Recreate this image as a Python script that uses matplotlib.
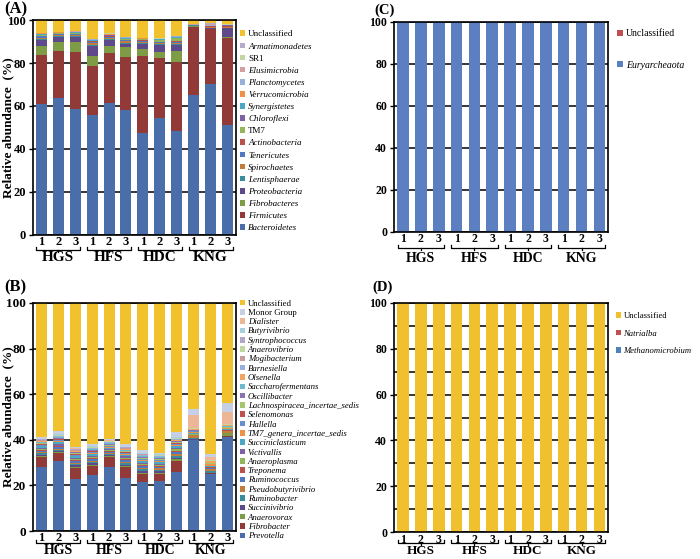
import matplotlib
matplotlib.use('Agg')
import matplotlib.pyplot as plt
import matplotlib.transforms as mtransforms
import numpy as np

plt.rcParams['font.family'] = ['Liberation Serif', 'DejaVu Serif']

samples = ['1', '2', '3'] * 4
groups = ['HGS', 'HFS', 'HDC', 'KNG']

# ---- (A) bacteria, phylum level (%), bars: HGS1..3, HFS1..3, HDC1..3, KNG1..3
bacteroidetes = [60.8, 63.5, 58.6, 56.0, 61.5, 58.2, 47.2, 54.3, 48.4, 65.0, 70.2, 51.0]
firmicutes = [22.9, 22.2, 26.7, 22.8, 23.0, 24.8, 36.2, 27.9, 32.3, 32.0, 25.7, 40.8]
fibrobacteres = [4.4, 4.2, 4.6, 4.6, 3.6, 4.6, 3.1, 2.8, 4.9, 0.1, 0.1, 0.2]
proteobacteria = [2.6, 2.3, 2.3, 4.7, 2.6, 1.5, 2.6, 3.4, 2.8, 0.3, 0.4, 4.1]
lentisphaerae = [0.5, 0.4, 0.4, 0.4, 0.5, 0.4, 0.4, 0.4, 0.5, 0.1, 0.1, 0.1]
spirochaetes = [0.7, 0.4, 0.5, 0.7, 0.5, 0.6, 0.5, 0.4, 0.6, 0.1, 0.2, 0.4]
tenericutes = [0.5, 0.4, 0.4, 0.6, 0.6, 0.5, 0.4, 0.4, 0.5, 0.1, 0.1, 0.2]
actinobacteria = [0.3, 0.2, 0.2, 0.3, 0.2, 0.3, 0.3, 0.3, 0.3, 0.1, 0.3, 0.6]
tm7 = [0.3, 0.2, 0.3, 0.2, 0.3, 0.3, 0.3, 0.7, 1.2, 0.0, 0.0, 0.0]
chloroflexi = [0.3, 0.2, 0.2, 0.2, 0.3, 0.2, 0.2, 0.2, 0.3, 0.0, 0.1, 0.1]
synergistetes = [0.3, 0.2, 0.2, 0.2, 0.2, 0.3, 0.2, 0.2, 0.3, 0.0, 0.1, 0.1]
verrucomicrobia = [0.2, 0.1, 0.1, 0.1, 0.1, 0.1, 0.1, 0.1, 0.1, 0.0, 0.1, 0.1]
planctomycetes = [0.2, 0.1, 0.2, 0.2, 0.2, 0.2, 0.1, 0.2, 0.3, 0.0, 0.3, 0.1]
elusimicrobia = [0.1, 0.1, 0.1, 0.1, 0.1, 0.1, 0.1, 0.1, 0.1, 0.2, 0.6, 0.1]
sr1 = [0.1, 0.1, 0.1, 0.1, 0.1, 0.1, 0.1, 0.1, 0.2, 0.0, 0.1, 0.1]
armatimonadetes = [0.0, 0.0, 0.0, 0.0, 0.0, 0.0, 0.0, 0.0, 0.0, 0.0, 0.1, 0.0]
unclassified_a = [5.8, 5.4, 5.1, 8.8, 6.2, 7.8, 8.2, 8.5, 7.2, 2.0, 1.5, 2.0]

# ---- (B) bacteria, genus level (%)
prevotella = [28.3, 30.5, 22.8, 24.5, 28.3, 23.1, 21.5, 22.1, 26.1, 39.8, 25.0, 41.4]
fibrobacter = [4.3, 3.6, 5.0, 4.2, 4.3, 4.9, 3.5, 3.1, 4.8, 0.1, 0.3, 0.1]
anaerovorax = [0.4, 0.4, 0.4, 0.4, 0.3, 0.5, 0.5, 0.4, 0.6, 0.2, 0.2, 1.4]
succinivibrio = [0.5, 0.6, 0.6, 0.6, 0.5, 0.6, 0.7, 0.6, 0.7, 0.1, 0.1, 0.1]
ruminobacter = [0.6, 0.5, 0.5, 0.7, 0.5, 0.7, 0.8, 0.7, 0.8, 0.8, 0.6, 0.2]
pseudobutyrivibrio = [0.5, 0.5, 0.6, 0.5, 0.4, 0.6, 0.7, 0.6, 0.8, 0.9, 1.2, 0.6]
ruminococcus = [0.6, 0.6, 0.6, 0.7, 0.5, 0.8, 0.7, 0.7, 0.8, 0.3, 0.4, 0.2]
treponema = [0.5, 0.4, 0.5, 0.5, 0.4, 0.5, 0.6, 0.5, 0.7, 0.1, 0.1, 0.1]
anaeroplasma = [0.4, 0.4, 0.5, 0.4, 0.5, 0.5, 0.5, 0.4, 0.6, 0.2, 0.2, 0.3]
victivallis = [0.5, 0.5, 0.6, 0.5, 0.4, 0.5, 0.5, 0.5, 0.6, 0.1, 0.1, 0.1]
succiniclasticum = [0.6, 1.2, 0.6, 0.8, 0.5, 0.7, 0.6, 0.6, 0.7, 0.3, 0.3, 0.2]
tm7_genera = [0.3, 0.3, 0.4, 0.4, 0.3, 0.4, 0.4, 0.4, 0.5, 0.6, 0.8, 0.5]
hallella = [0.4, 0.4, 0.4, 0.4, 0.3, 0.4, 0.4, 0.4, 0.5, 0.2, 0.2, 0.1]
selenomonas = [0.3, 0.3, 0.3, 0.3, 0.3, 0.4, 0.4, 0.3, 0.4, 0.1, 0.1, 0.1]
lachnospiracea = [0.3, 0.3, 0.4, 0.4, 0.3, 0.4, 0.4, 0.4, 0.5, 0.2, 0.2, 0.3]
oscillibacter = [0.3, 0.3, 0.3, 0.3, 0.3, 0.3, 0.3, 0.3, 0.3, 0.1, 0.1, 0.1]
saccharofermentans = [0.3, 0.3, 0.3, 0.3, 0.3, 0.3, 0.3, 0.3, 0.3, 0.1, 0.1, 0.1]
olsenella = [0.2, 0.2, 0.2, 0.2, 0.2, 0.2, 0.3, 0.2, 0.3, 0.5, 0.6, 0.6]
barnesiella = [0.3, 0.3, 0.3, 0.3, 0.3, 0.3, 0.3, 0.3, 0.3, 0.1, 0.2, 0.1]
mogibacterium = [0.2, 0.2, 0.2, 0.2, 0.2, 0.2, 0.2, 0.2, 0.2, 0.1, 0.1, 0.1]
anaerovibrio = [0.2, 0.2, 0.2, 0.2, 0.2, 0.2, 0.2, 0.2, 0.2, 0.1, 0.1, 0.1]
syntrophococcus = [0.2, 0.2, 0.2, 0.2, 0.2, 0.2, 0.2, 0.2, 0.2, 0.1, 0.1, 0.1]
butyrivibrio = [0.2, 0.2, 0.2, 0.2, 0.2, 0.2, 0.2, 0.2, 0.2, 0.2, 0.2, 0.2]
dialister = [0.1, 0.1, 0.1, 0.1, 0.1, 0.1, 0.1, 0.1, 0.1, 5.5, 1.0, 5.3]
monor_group = [0.6, 1.2, 0.6, 0.9, 0.5, 1.0, 1.2, 0.7, 2.4, 2.5, 1.4, 3.6]
unclassified_b = [58.9, 56.3, 63.2, 61.8, 59.7, 62.0, 64.5, 65.6, 56.4, 46.7, 66.3, 44.0]

# ---- (C) archaea, phylum level (%)
euryarchaeota = [100.0, 100.0, 100.0, 100.0, 99.8, 100.0, 99.8, 99.8, 99.8, 100.0, 100.0, 100.0]
unclassified_c = [0.0, 0.0, 0.0, 0.0, 0.2, 0.0, 0.2, 0.2, 0.2, 0.0, 0.0, 0.0]

# ---- (D) archaea, genus level (%)
methanomicrobium = [0.0] * 12
natrialba = [0.0] * 12
unclassified_d = [100.0] * 12

series_a = [bacteroidetes, firmicutes, fibrobacteres, proteobacteria, lentisphaerae,
            spirochaetes, tenericutes, actinobacteria, tm7, chloroflexi, synergistetes,
            verrucomicrobia, planctomycetes, elusimicrobia, sr1, armatimonadetes, unclassified_a]
labels_a = ['Bacteroidetes', 'Firmicutes', 'Fibrobacteres', 'Proteobacteria', 'Lentisphaerae',
            'Spirochaetes', 'Tenericutes', 'Actinobacteria', 'TM7', 'Chloroflexi', 'Synergistetes',
            'Verrucomicrobia', 'Planctomycetes', 'Elusimicrobia', 'SR1', 'Armatimonadetes',
            'Unclassified']
colors_a = ['#4a6eaa', '#923a38', '#7e9c45', '#5e4a8a', '#3b8c9b', '#c27c3c', '#5079c0',
            '#b9504c', '#93b65a', '#7c62a3', '#4ba8c2', '#ee9346', '#98b1da', '#d4a09f',
            '#c2d6a0', '#b7abcc', '#f2c12e']

series_b = [prevotella, fibrobacter, anaerovorax, succinivibrio, ruminobacter, pseudobutyrivibrio,
            ruminococcus, treponema, anaeroplasma, victivallis, succiniclasticum, tm7_genera,
            hallella, selenomonas, lachnospiracea, oscillibacter, saccharofermentans, olsenella,
            barnesiella, mogibacterium, anaerovibrio, syntrophococcus, butyrivibrio, dialister,
            monor_group, unclassified_b]
labels_b = ['Prevotella', 'Fibrobacter', 'Anaerovorax', 'Succinivibrio', 'Ruminobacter',
            'Pseudobutyrivibrio', 'Ruminococcus', 'Treponema', 'Anaeroplasma', 'Victivallis',
            'Succiniclasticum', 'TM7_genera_incertae_sedis', 'Hallella', 'Selenomonas',
            'Lachnospiracea_incertae_sedis', 'Oscillibacter', 'Saccharofermentans', 'Olsenella',
            'Barnesiella', 'Mogibacterium', 'Anaerovibrio', 'Syntrophococcus', 'Butyrivibrio',
            'Dialister', 'Monor Group', 'Unclassified']
colors_b = ['#4a6eaa', '#923a38', '#7e9c45', '#5e4a8a', '#3b8c9b', '#c27c3c', '#5079c0',
            '#b9504c', '#93b65a', '#7c62a3', '#4ba8c2', '#ee9346', '#6a8fd0', '#c0504d',
            '#a7c46e', '#8a74b0', '#6cb9d0', '#f3a460', '#98b1da', '#c99a9a', '#c2d6a0',
            '#b3a6cb', '#a8cfdc', '#edb797', '#c5cfe5', '#f2c12e']

series_c = [euryarchaeota, unclassified_c]
labels_c = ['Euryarcheaota', 'Unclassified']
colors_c = ['#5b7fc0', '#c0504d']

series_d = [methanomicrobium, natrialba, unclassified_d]
labels_d = ['Methanomicrobium', 'Natrialba', 'Unclassified']
colors_d = ['#4f81bd', '#c0504d', '#f0c02e']

upright = {'Unclassified', 'SR1', 'TM7', 'Monor Group'}


def stacked(ax, series, labels, colors):
    x = np.arange(len(samples))
    bottom = np.zeros(len(samples))
    handles = []
    for vals, lab, col in zip(series, labels, colors):
        h = ax.bar(x, vals, 0.65, bottom=bottom, color=col, label=lab, linewidth=0, zorder=2)
        bottom += np.array(vals)
        handles.append(h)
    return handles


def style(ax, step, ytick_fs, num_fs, grp_fs, brk_y, grp_y):
    ax.set_xlim(-0.5, 11.5)
    ax.set_ylim(0, 100)
    ax.set_yticks(range(0, 101, 20))
    ax.set_yticks(np.arange(0, 101, step), minor=True)
    ax.yaxis.grid(True, which='both', color='black', lw=1.1, zorder=0)
    ax.set_axisbelow(True)
    ax.tick_params(axis='y', which='minor', length=0)
    ax.tick_params(axis='y', which='major', length=3, width=1, labelsize=ytick_fs, pad=2)
    for t in ax.get_yticklabels():
        t.set_fontweight('bold')
    ax.set_xticks(range(len(samples)))
    ax.set_xticklabels(samples, fontsize=num_fs, fontweight='bold')
    ax.tick_params(axis='x', length=0, pad=1)
    for s in ax.spines.values():
        s.set_linewidth(1.2)
    trans = mtransforms.blended_transform_factory(ax.transData, ax.transAxes)
    for g, name in enumerate(groups):
        x0, x1, xm = 3 * g - 0.3, 3 * g + 2.3, 3 * g + 1
        ax.plot([x0, x0, x1, x1], [brk_y + 0.012, brk_y, brk_y, brk_y + 0.012],
                color='black', lw=0.9, transform=trans, clip_on=False)
        ax.plot([xm, xm], [brk_y, brk_y - 0.01], color='black', lw=0.9,
                transform=trans, clip_on=False)
        ax.text(xm, grp_y, name, transform=trans, ha='center', va='center',
                fontsize=grp_fs, fontweight='bold')


def legend(ax, handles, labels, fs, spacing, anchor):
    leg = ax.legend(handles[::-1], labels[::-1], loc='upper left', bbox_to_anchor=anchor,
                    frameon=False, fontsize=fs, labelspacing=spacing, handlelength=0.6,
                    handleheight=0.6, handletextpad=0.3, borderpad=0, borderaxespad=0)
    for t in leg.get_texts():
        if t.get_text() not in upright:
            t.set_fontstyle('italic')


fig = plt.figure(figsize=(7, 5.59), dpi=100)

ax_a = fig.add_axes([0.047, 0.580, 0.290, 0.384])
ax_b = fig.add_axes([0.047, 0.050, 0.290, 0.408])
ax_c = fig.add_axes([0.563, 0.585, 0.306, 0.376])
ax_d = fig.add_axes([0.563, 0.048, 0.306, 0.410])

h = stacked(ax_a, series_a, labels_a, colors_a)
style(ax_a, 20, 9, 9, 11, -0.07, -0.107)
legend(ax_a, h, labels_a, 6.5, 0.45, (1.02, 0.952))

h = stacked(ax_b, series_b, labels_b, colors_b)
style(ax_b, 20, 9.5, 9, 10, -0.052, -0.086)
legend(ax_b, h, labels_b, 6.3, 0.15, (1.02, 1.015))

h = stacked(ax_c, series_c, labels_c, colors_c)
style(ax_c, 20, 8.5, 8.5, 10, -0.076, -0.124)
legend(ax_c, h, labels_c, 7, 2.3, (1.04, 0.965))

h = stacked(ax_d, series_d, labels_d, colors_d)
style(ax_d, 10, 8.5, 8.5, 9.5, -0.048, -0.083)
legend(ax_d, h, labels_d, 6.2, 1.1, (1.035, 0.96))

for ax in (ax_a, ax_b):
    ax.set_ylabel('Relative abundance  (%)', fontsize=9.5, fontweight='bold')
    ax.yaxis.set_label_coords(-0.092, 0.5)

fig.text(0.006, 1 - 9 / 559, '(A)', fontsize=12, fontweight='bold', va='center')
fig.text(0.006, 1 - 287 / 559, '(B)', fontsize=12, fontweight='bold', va='center')
fig.text(0.535, 1 - 10 / 559, '(C)', fontsize=10.5, fontweight='bold', va='center')
fig.text(0.532, 1 - 287 / 559, '(D)', fontsize=10.5, fontweight='bold', va='center')

fig.savefig('out.png', dpi=100)
